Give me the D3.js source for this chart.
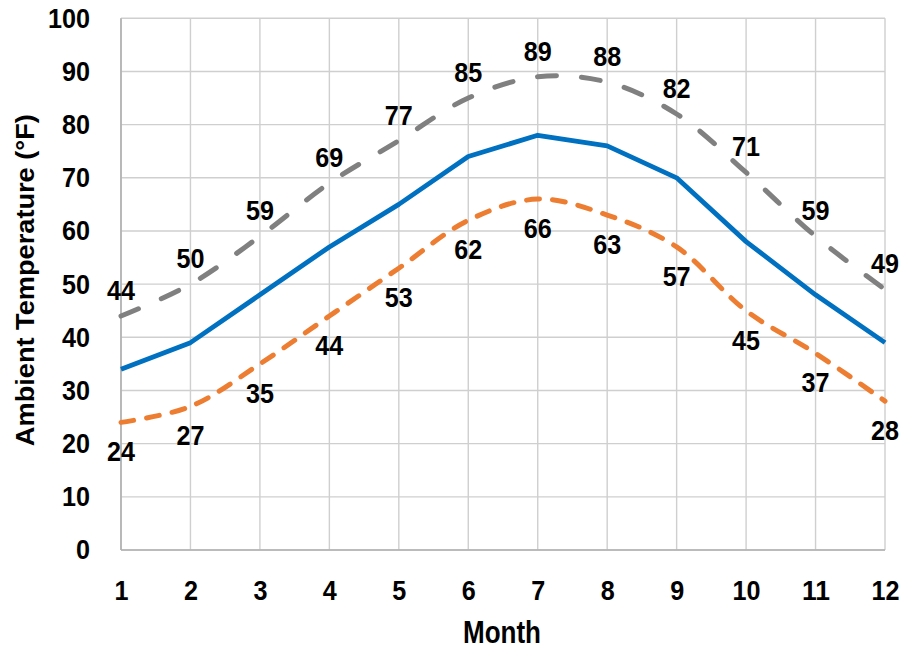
<!DOCTYPE html>
<html>
<head>
<meta charset="utf-8">
<script src="https://cdn.jsdelivr.net/npm/d3@7"></script>
<style>
  html, body { margin: 0; padding: 0; background: #fff; }
  svg { display: block; }
  .lbl { font-family: "Liberation Sans", Arial, sans-serif; font-weight: bold; fill: #000; }
</style>
</head>
<body>
<svg id="chart" width="904" height="649"></svg>
<script>
// Monthly ambient temperatures (°F)
const months = [1, 2, 3, 4, 5, 6, 7, 8, 9, 10, 11, 12];
const highTemps = [44, 50, 59, 69, 77, 85, 89, 88, 82, 71, 59, 49];
const meanTemps = [34, 39, 48, 57, 65, 74, 78, 76, 70, 58, 48, 39];
const lowTemps  = [24, 27, 35, 44, 53, 62, 66, 63, 57, 45, 37, 28];
const yTicks = [0, 10, 20, 30, 40, 50, 60, 70, 80, 90, 100];

const svg = d3.select("#chart");
const plotL = 121, plotR = 885, plotT = 18.3, plotB = 550;
const digitW = 14; // condensed digit advance

const x = d3.scaleLinear().domain([1, 12]).range([plotL, plotR]);
const y = d3.scaleLinear().domain([0, 100]).range([plotB, plotT]);

// squeeze bold text into a narrow face
function narrow(sel) {
  sel.attr("lengthAdjust", "spacingAndGlyphs")
     .attr("textLength", function () { return this.textContent.length * digitW; });
}

// Grid
const grid = svg.append("g");
grid.selectAll("line.h").data(yTicks).join("line")
  .attr("x1", plotL).attr("x2", plotR)
  .attr("y1", d => y(d)).attr("y2", d => y(d))
  .attr("stroke", "#cfcfcf").attr("stroke-width", 1.4);
grid.selectAll("line.v").data(months).join("line")
  .attr("x1", d => x(d)).attr("x2", d => x(d))
  .attr("y1", plotT).attr("y2", plotB)
  .attr("stroke", "#cfcfcf").attr("stroke-width", 1.4);
// Axis lines
svg.append("line").attr("x1", plotL).attr("x2", plotR).attr("y1", plotB).attr("y2", plotB)
  .attr("stroke", "#b0b0b0").attr("stroke-width", 1.6);
svg.append("line").attr("x1", plotL).attr("x2", plotL).attr("y1", plotT).attr("y2", plotB)
  .attr("stroke", "#b0b0b0").attr("stroke-width", 1.6);

// Axes tick labels
const yAxis = d3.axisLeft(y).tickValues(yTicks).tickSize(0).tickPadding(31);
const gy = svg.append("g").attr("transform", `translate(${plotL},0)`).call(yAxis);
const xAxis = d3.axisBottom(x).tickValues(months).tickSize(0).tickPadding(30);
const gx = svg.append("g").attr("transform", `translate(0,${plotB})`).call(xAxis);
[gy, gx].forEach(g => {
  g.select(".domain").remove();
  g.selectAll("text").attr("class", "lbl").attr("font-size", 28).attr("fill", "#000").call(narrow);
});

// Axis titles
svg.append("text").attr("class", "lbl")
  .attr("transform", `translate(34,${(plotT + plotB) / 2 - 4}) rotate(-90)`)
  .attr("text-anchor", "middle").attr("font-size", 25)
  .attr("textLength", 332).attr("lengthAdjust", "spacingAndGlyphs")
  .text("Ambient Temperature (°F)");
svg.append("text").attr("class", "lbl")
  .attr("x", 502).attr("y", 643)
  .attr("text-anchor", "middle").attr("font-size", 31)
  .attr("textLength", 78).attr("lengthAdjust", "spacingAndGlyphs")
  .text("Month");

// Series lines
const smooth = d3.line().x((d, i) => x(months[i])).y(d => y(d)).curve(d3.curveCatmullRom.alpha(0.5));
const straight = d3.line().x((d, i) => x(months[i])).y(d => y(d));

svg.append("path").datum(highTemps).attr("d", smooth)
  .attr("fill", "none").attr("stroke", "#808080").attr("stroke-width", 5)
  .attr("stroke-dasharray", "19,25").attr("stroke-linecap", "round");
svg.append("path").datum(meanTemps).attr("d", straight)
  .attr("fill", "none").attr("stroke", "#0070C0").attr("stroke-width", 4.8)
  .attr("stroke-linejoin", "round");
svg.append("path").datum(lowTemps).attr("d", smooth)
  .attr("fill", "none").attr("stroke", "#ED7D31").attr("stroke-width", 5)
  .attr("stroke-dasharray", "13,13").attr("stroke-linecap", "round");

// Value labels
svg.selectAll("text.hi").data(highTemps).join("text")
  .attr("class", "lbl hi").attr("font-size", 28).attr("text-anchor", "middle")
  .attr("x", (d, i) => x(months[i])).attr("y", d => y(d) - 16)
  .text(d => d).call(narrow);
svg.selectAll("text.lo").data(lowTemps).join("text")
  .attr("class", "lbl lo").attr("font-size", 28).attr("text-anchor", "middle")
  .attr("x", (d, i) => x(months[i])).attr("y", d => y(d) + 39)
  .text(d => d).call(narrow);
</script>
</body>
</html>
